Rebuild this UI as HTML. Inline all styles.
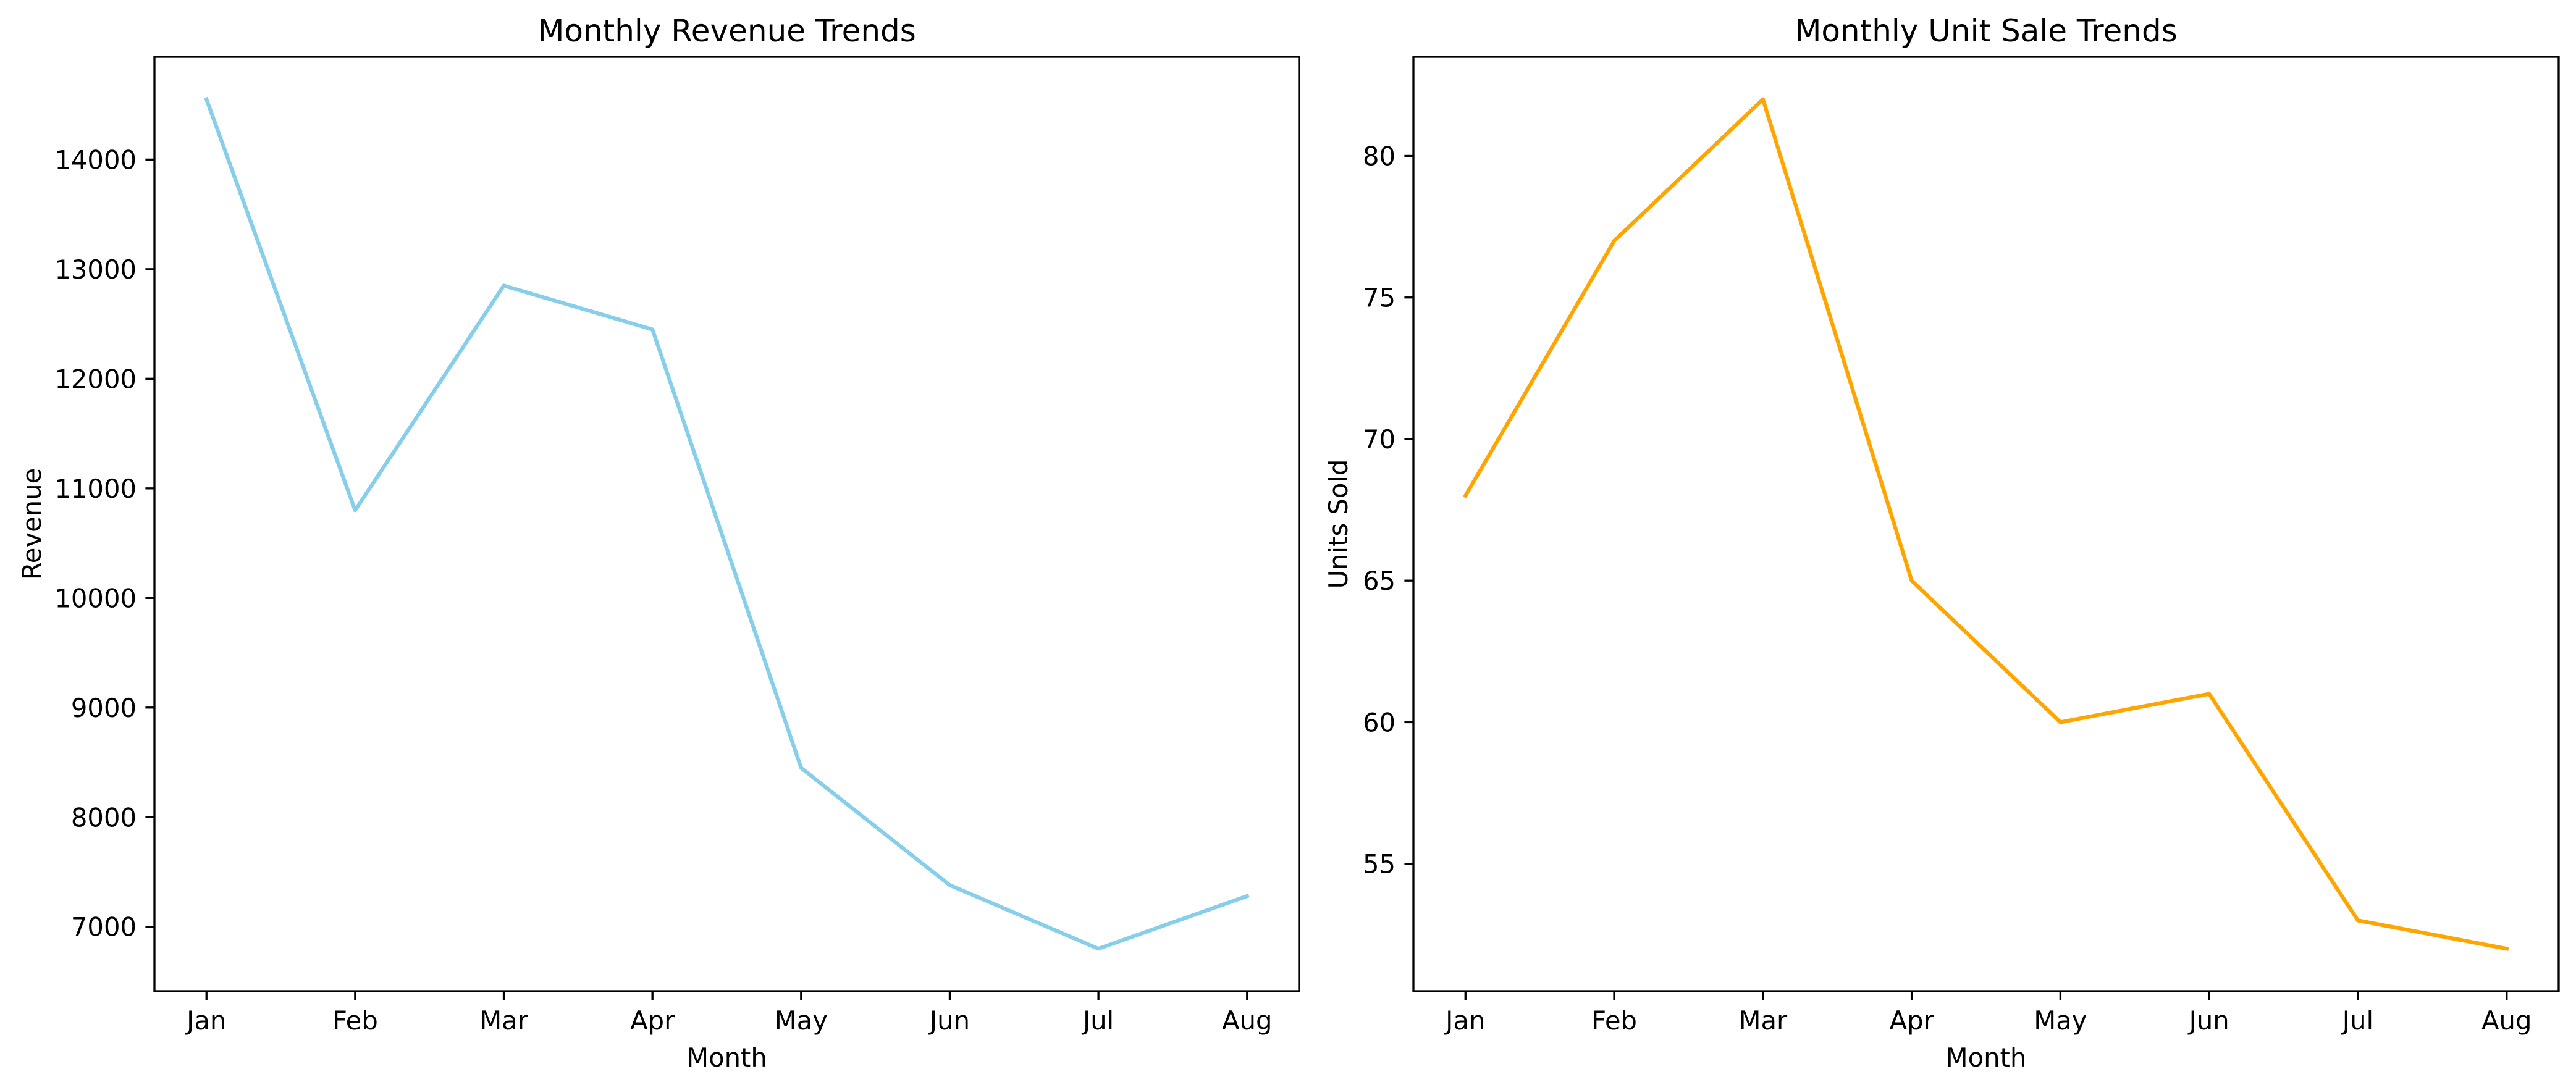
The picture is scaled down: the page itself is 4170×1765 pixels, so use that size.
<!DOCTYPE html>
<html><head><meta charset="utf-8"><style>
html,body{margin:0;padding:0;background:#fff;}
svg{display:block;font-family:"DejaVu Sans","Liberation Sans",sans-serif;}
</style></head><body>
<svg id="chart" width="4170" height="1765" viewBox="0 0 4170 1765" xmlns="http://www.w3.org/2000/svg">
<rect width="4170" height="1765" fill="#fff"/>
</svg>
<script>
const months = ["Jan","Feb","Mar","Apr","May","Jun","Jul","Aug"];
const revenueValues = [14550,10800,12850,12450,8450,7380,6800,7280];
const unitValues = [68,77,82,65,60,61,53,52];
const revenueTicks = [7000,8000,9000,10000,11000,12000,13000,14000];
const unitTicks = [55,60,65,70,75,80];

const NS = "http://www.w3.org/2000/svg";
const svg = document.getElementById('chart');
function mk(tag, attrs, parent){
  const e = document.createElementNS(NS, tag);
  for (const k in attrs) e.setAttribute(k, attrs[k]);
  (parent||svg).appendChild(e);
  return e;
}
function drawPanel(opt){
  const g = mk('g', {});
  
  
  const L=opt.left, R=opt.right, T=92, B=1605;
  const vals = opt.values;
  const mn = Math.min(...vals), mx = Math.max(...vals), sp = mx-mn;
  const y0 = mn - sp*0.05, y1 = mx + sp*0.05;
  const xs = i => L + (i + 0.35)/7.7*(R-L);
  const ys = v => B - (v - y0)/(y1 - y0)*(B-T);
  // line
  const pts = vals.map((v,i)=>xs(i).toFixed(2)+','+ys(v).toFixed(2)).join(' ');
  const line = mk('polyline', {points:pts, fill:'none', stroke:opt.color, 'stroke-width':6.25, 'stroke-linejoin':'round', 'stroke-linecap':'square'}, g);
  
  
  // frame
  const fr = mk('rect', {x:L, y:T, width:R-L, height:B-T, fill:'none', stroke:'#000', 'stroke-width':3.33}, g);
  
  
  // x ticks
  months.forEach((m,i)=>{
    const x = xs(i);
    mk('line', {x1:x, x2:x, y1:B, y2:B+14.6, stroke:'#000', 'stroke-width':3.33}, g);
    const t = mk('text', {x:x, y:1667, 'font-size':41.7, 'text-anchor':'middle'}, g);
    t.textContent = m;
    
    
  });
  // y ticks
  opt.ticks.forEach(v=>{
    const y = ys(v);
    mk('line', {x1:L-14.6, x2:L, y1:y, y2:y, stroke:'#000', 'stroke-width':3.33}, g);
    const t = mk('text', {x:L-29, y:y+15, 'font-size':41.7, 'text-anchor':'end'}, g);
    t.textContent = v;
    
    
  });
  const title = mk('text', {x:(L+R)/2, y:67, 'font-size':50, 'text-anchor':'middle'}, g);
  title.textContent = opt.title;
  
  
  const xl = mk('text', {x:(L+R)/2, y:1727, 'font-size':41.7, 'text-anchor':'middle'}, g);
  xl.textContent = 'Month';
  
  
  const yl = mk('text', {x:0, y:0, 'font-size':41.7, 'text-anchor':'middle', transform:'translate('+opt.ylx+','+((T+B)/2)+') rotate(-90)'}, g);
  yl.textContent = opt.ylabel;
  
  
}
drawPanel({name:'revenue-panel', left:250, right:2103, values:revenueValues, ticks:revenueTicks, color:'#87CEEB', title:'Monthly Revenue Trends', ylabel:'Revenue', ylx:66});
drawPanel({name:'units-panel', left:2288, right:4142, values:unitValues, ticks:unitTicks, color:'#FFA500', title:'Monthly Unit Sale Trends', ylabel:'Units Sold', ylx:2181});
</script>
</body></html>
